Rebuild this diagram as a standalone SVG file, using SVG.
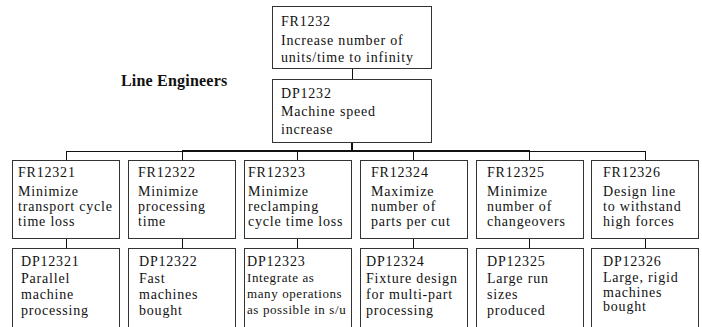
<svg xmlns="http://www.w3.org/2000/svg" width="702" height="327" viewBox="0 0 702 327">
<style>
.box{fill:#fff;stroke:#333;stroke-width:1}
.t{font-family:"Liberation Serif","Times New Roman",serif;font-size:14px;letter-spacing:0.8px;fill:#111}
.s{font-size:13px;letter-spacing:0.6px}
.h{font-family:"Liberation Serif","Times New Roman",serif;font-size:16px;font-weight:bold;letter-spacing:0.2px;fill:#111}
.c{stroke:#111;stroke-width:1;fill:none}
.ct{stroke:#111;stroke-width:2;fill:none}
</style>
<rect width="702" height="327" fill="#fff"/>
<g id="connectors">
<line class="c" x1="352.5" y1="69" x2="352.5" y2="79"/>
<line class="ct" x1="352" y1="143" x2="352" y2="151"/>
<line class="c" x1="66" y1="151.5" x2="646" y2="151.5"/>
<line class="ct" x1="182" y1="151" x2="530" y2="151"/>
<line class="c" x1="66.5" y1="151" x2="66.5" y2="161"/>
<line class="c" x1="182.5" y1="151" x2="182.5" y2="161"/>
<line class="c" x1="297.5" y1="151" x2="297.5" y2="161"/>
<line class="c" x1="413.5" y1="151" x2="413.5" y2="161"/>
<line class="c" x1="529.5" y1="151" x2="529.5" y2="161"/>
<line class="c" x1="645.5" y1="151" x2="645.5" y2="161"/>
<line class="c" x1="66.5" y1="239" x2="66.5" y2="248"/>
<line class="c" x1="182.5" y1="239" x2="182.5" y2="248"/>
<line class="c" x1="297.5" y1="239" x2="297.5" y2="248"/>
<line class="c" x1="413.5" y1="239" x2="413.5" y2="248"/>
<line class="c" x1="529.5" y1="239" x2="529.5" y2="248"/>
<line class="c" x1="645.5" y1="239" x2="645.5" y2="248"/>
</g>
<text class="h" x="121" y="86">Line Engineers</text>
<g id="FR1232">
<rect class="box" x="272.5" y="6.5" width="159" height="62"/>
<text class="t" x="281" y="26">FR1232</text>
<text class="t" x="281" y="45">Increase number of</text>
<text class="t" x="281" y="62">units/time to infinity</text>
</g>
<g id="DP1232">
<rect class="box" x="272.5" y="79.5" width="159" height="63"/>
<text class="t" x="281" y="98">DP1232</text>
<text class="t" x="281" y="116">Machine speed</text>
<text class="t" x="281" y="134">increase</text>
</g>
<g id="FR12321">
<rect class="box" x="12.5" y="160.5" width="107" height="78"/>
<text class="t" x="18" y="177">FR12321</text>
<text class="t" x="18" y="196">Minimize</text>
<text class="t" x="18" y="211">transport cycle</text>
<text class="t" x="18" y="226">time loss</text>
</g>
<g id="FR12322">
<rect class="box" x="128.5" y="160.5" width="107" height="78"/>
<text class="t" x="138" y="177">FR12322</text>
<text class="t" x="138" y="196">Minimize</text>
<text class="t" x="138" y="211">processing</text>
<text class="t" x="138" y="226">time</text>
</g>
<g id="FR12323">
<rect class="box" x="244.5" y="160.5" width="107" height="78"/>
<text class="t" x="248" y="177">FR12323</text>
<text class="t" x="248" y="196">Minimize</text>
<text class="t" x="248" y="211">reclamping</text>
<text class="t" x="248" y="226">cycle time loss</text>
</g>
<g id="FR12324">
<rect class="box" x="360.5" y="160.5" width="107" height="78"/>
<text class="t" x="371" y="177">FR12324</text>
<text class="t" x="371" y="196">Maximize</text>
<text class="t" x="371" y="211">number of</text>
<text class="t" x="371" y="226">parts per cut</text>
</g>
<g id="FR12325">
<rect class="box" x="476.5" y="160.5" width="107" height="78"/>
<text class="t" x="487" y="177">FR12325</text>
<text class="t" x="487" y="196">Minimize</text>
<text class="t" x="487" y="211">number of</text>
<text class="t" x="487" y="226">changeovers</text>
</g>
<g id="FR12326">
<rect class="box" x="591.5" y="160.5" width="107" height="78"/>
<text class="t" x="603" y="177">FR12326</text>
<text class="t" x="603" y="196">Design line</text>
<text class="t" x="603" y="211">to withstand</text>
<text class="t" x="603" y="226">high forces</text>
</g>
<g id="DP12321">
<rect class="box" x="12.5" y="248.5" width="107" height="90"/>
<text class="t" x="21" y="266">DP12321</text>
<text class="t" x="21" y="283">Parallel</text>
<text class="t" x="21" y="299">machine</text>
<text class="t" x="21" y="315">processing</text>
</g>
<g id="DP12322">
<rect class="box" x="128.5" y="248.5" width="107" height="90"/>
<text class="t" x="139" y="266">DP12322</text>
<text class="t" x="139" y="283">Fast</text>
<text class="t" x="139" y="299">machines</text>
<text class="t" x="139" y="315">bought</text>
</g>
<g id="DP12323">
<rect class="box" x="244.5" y="248.5" width="107" height="90"/>
<text class="t" x="247" y="266">DP12323</text>
<text class="t s" x="247" y="282">Integrate as</text>
<text class="t s" x="247" y="298">many operations</text>
<text class="t s" x="247" y="314">as possible in s/u</text>
</g>
<g id="DP12324">
<rect class="box" x="360.5" y="248.5" width="107" height="90"/>
<text class="t" x="366" y="266">DP12324</text>
<text class="t" x="366" y="283">Fixture design</text>
<text class="t" x="366" y="299">for multi-part</text>
<text class="t" x="366" y="315">processing</text>
</g>
<g id="DP12325">
<rect class="box" x="476.5" y="248.5" width="107" height="90"/>
<text class="t" x="487" y="266">DP12325</text>
<text class="t" x="487" y="283">Large run</text>
<text class="t" x="487" y="299">sizes</text>
<text class="t" x="487" y="315">produced</text>
</g>
<g id="DP12326">
<rect class="box" x="591.5" y="248.5" width="107" height="90"/>
<text class="t" x="603" y="266">DP12326</text>
<text class="t" x="603" y="282">Large, rigid</text>
<text class="t" x="603" y="297">machines</text>
<text class="t" x="603" y="311">bought</text>
</g>
</svg>
